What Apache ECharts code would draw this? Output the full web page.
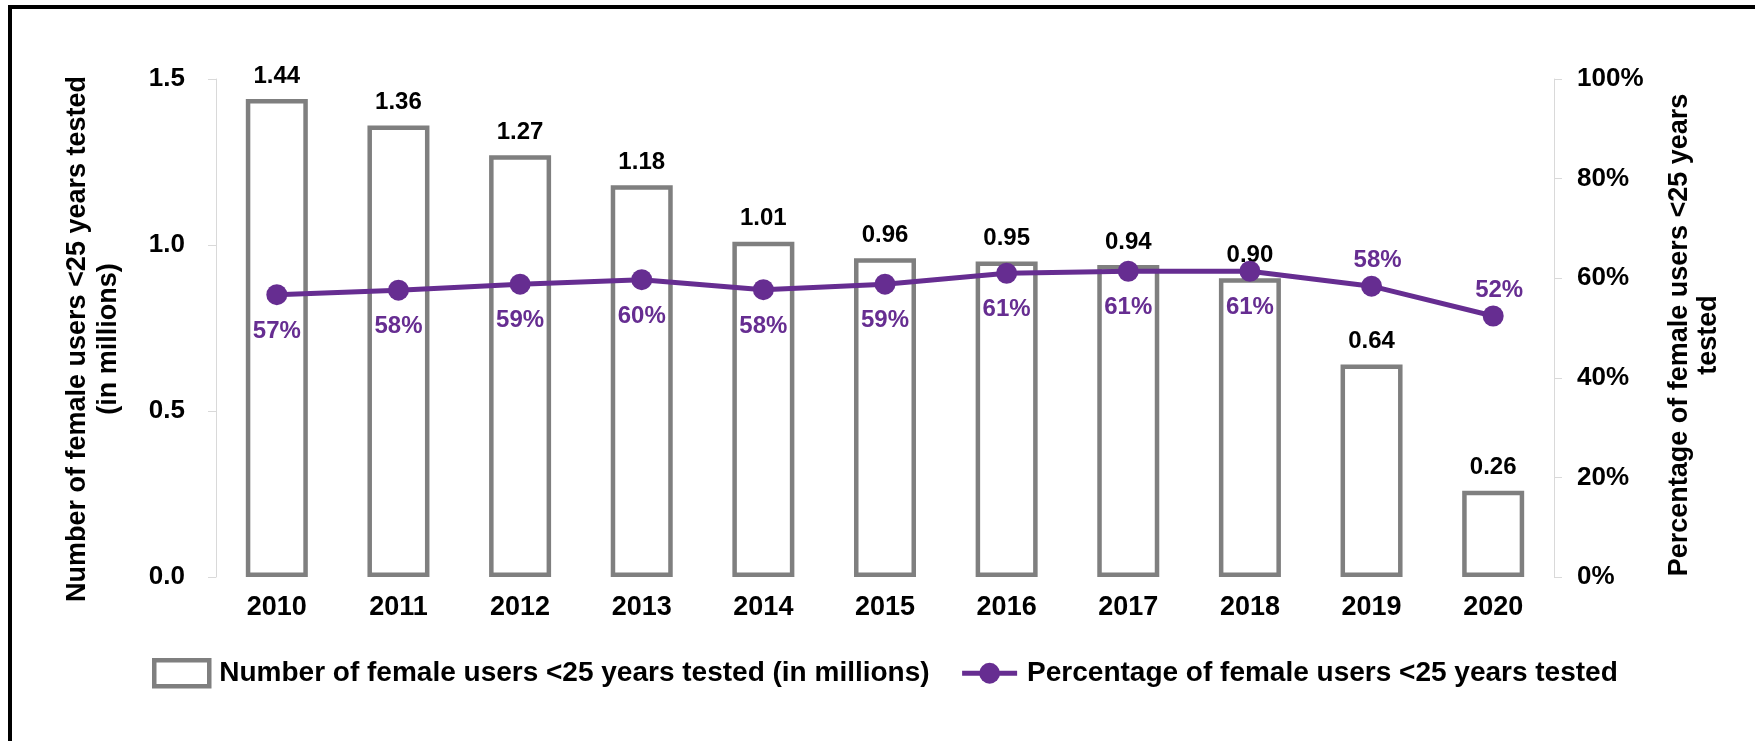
<!DOCTYPE html>
<html>
<head>
<meta charset="utf-8">
<script src="https://cdn.jsdelivr.net/npm/echarts@6/dist/echarts.min.js"></script>
<style>
  html, body { margin: 0; padding: 0; background: #ffffff; }
  #chart { width: 1755px; height: 741px; }
</style>
</head>
<body>
<div id="chart"></div>
<script>
// Female users under 25 tested, 2010-2020
const years = ['2010', '2011', '2012', '2013', '2014', '2015', '2016', '2017', '2018', '2019', '2020'];
const testedMillions = [1.44, 1.36, 1.27, 1.18, 1.01, 0.96, 0.95, 0.94, 0.90, 0.64, 0.26];
const testedPercent = [56.7, 57.6, 58.8, 59.7, 57.7, 58.8, 61.0, 61.4, 61.4, 58.4, 52.4];
const leftTicks = [0, 0.5, 1.0, 1.5];
const rightTicks = [0, 20, 40, 60, 80, 100];

const barName = 'Number of female users <25 years tested (in millions)';
const lineName = 'Percentage of female users <25 years tested';

const GRAY = '#7f7f7f';
const PURPLE = '#662d91';
const SANS = "'Liberation Sans', Arial, sans-serif";

// labels sit above the line for the last two years
const pctAbove = new Set(['2019', '2020']);

const chart = echarts.init(document.getElementById('chart'), null, { renderer: 'canvas' });

chart.setOption({
  animation: false,
  backgroundColor: '#ffffff',
  textStyle: { fontFamily: SANS },
  graphic: [{
    type: 'rect',
    shape: { x: 10, y: 7, width: 1800, height: 800 },
    style: { fill: 'none', stroke: '#000000', lineWidth: 4 },
    silent: true,
    z: 100
  }],
  grid: { left: 216, right: 201, top: 79, bottom: 164 },
  legend: {
    left: 147,
    top: 653,
    itemWidth: 55,
    itemHeight: 26,
    itemGap: 30,
    lineStyle: { width: 5 },
    textStyle: { fontFamily: SANS, fontWeight: 'bold', fontSize: 28, color: '#000000', padding: [0, 0, 0, 5] },
    data: [
      { name: barName, icon: 'rect', itemStyle: { color: '#ffffff', borderColor: GRAY, borderWidth: 4.5 } },
      { name: lineName }
    ]
  },
  xAxis: {
    type: 'category',
    data: years,
    axisLine: { show: false },
    axisTick: { show: false },
    axisLabel: { fontFamily: SANS, fontWeight: 'bold', fontSize: 27, color: '#000000', margin: 17 }
  },
  yAxis: [{
    type: 'value',
    min: leftTicks[0],
    max: leftTicks[leftTicks.length - 1],
    interval: 0.5,
    position: 'left',
    name: 'Number of female users <25 years tested\n(in millions)',
    nameLocation: 'middle',
    nameRotate: 90,
    nameGap: 92,
    nameTextStyle: { fontFamily: SANS, fontWeight: 'bold', fontSize: 27, color: '#000000', lineHeight: 31, padding: [0, 22, 0, 0] },
    axisLine: { show: true, lineStyle: { color: '#d9d9d9', width: 1 } },
    axisTick: { show: true, length: 8, lineStyle: { color: '#d9d9d9' } },
    splitLine: { show: false },
    axisLabel: {
      fontFamily: SANS, fontWeight: 'bold', fontSize: 26, color: '#000000', margin: 31,
      formatter: v => v.toFixed(1)
    }
  }, {
    type: 'value',
    min: rightTicks[0],
    max: rightTicks[rightTicks.length - 1],
    interval: 20,
    position: 'right',
    name: 'Percentage of female users <25 years\ntested',
    nameLocation: 'middle',
    nameRotate: 90,
    nameGap: 111,
    nameTextStyle: { fontFamily: SANS, fontWeight: 'bold', fontSize: 27, color: '#000000', lineHeight: 29, padding: [0, 14, 0, 0] },
    axisLine: { show: true, lineStyle: { color: '#d9d9d9', width: 1 } },
    axisTick: { show: true, length: 8, lineStyle: { color: '#d9d9d9' } },
    splitLine: { show: false },
    axisLabel: {
      fontFamily: SANS, fontWeight: 'bold', fontSize: 26, color: '#000000', margin: 23,
      formatter: v => v + '%'
    }
  }],
  series: [{
    name: barName,
    type: 'bar',
    yAxisIndex: 0,
    barWidth: 62,
    data: testedMillions,
    itemStyle: { color: '#ffffff', borderColor: GRAY, borderWidth: 4.5 },
    label: {
      show: true,
      position: 'top',
      distance: 11,
      fontFamily: SANS, fontWeight: 'bold', fontSize: 24, color: '#000000',
      formatter: p => p.value.toFixed(2)
    },
    z: 2
  }, {
    name: lineName,
    type: 'line',
    yAxisIndex: 1,
    data: testedPercent.map((v, i) => ({
      value: v,
      label: pctAbove.has(years[i])
        ? { position: 'top', distance: 3, offset: [6, 0] }
        : { position: 'bottom', distance: 14 }
    })),
    symbol: 'circle',
    symbolSize: 21,
    lineStyle: { color: PURPLE, width: 5 },
    itemStyle: { color: PURPLE },
    label: {
      show: true,
      fontFamily: SANS, fontWeight: 'bold', fontSize: 24, color: PURPLE,
      formatter: p => Math.round(p.value) + '%'
    },
    z: 5
  }]
});
</script>
</body>
</html>
